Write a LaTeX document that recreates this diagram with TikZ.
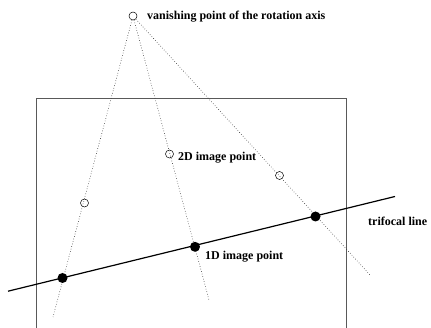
\documentclass[tikz,border=0pt]{standalone}
\usepackage{fontspec}
\setmainfont{Liberation Serif}
\begin{document}
\begin{tikzpicture}[x=1pt,y=-1pt,
  ray/.style={dotted,line width=0.6pt,black!80},
  hollow/.style={circle,draw,line width=0.5pt,minimum size=8pt,inner sep=0pt},
  solid dot/.style={circle,fill=black,minimum size=10pt,inner sep=0pt},
  lbl/.style={anchor=west,font=\fontsize{12}{14}\selectfont\bfseries,inner sep=0pt},
  frame/.style={line width=0.6pt,black!65}]
\useasboundingbox (0,0) rectangle (431,328);
% frame (image)
\coordinate (fbl) at (36,328);
\coordinate (ftl) at (36,98);
\coordinate (ftr) at (346,98);
\coordinate (fbr) at (346,328);
\draw[frame] (fbl) -- (ftl) -- (ftr) -- (fbr);
% vanishing point
\node[hollow] (vp) at (133,16) {};
\node[lbl] (vpl) at (147,17) {vanishing point of the rotation axis};
% ray ends
\coordinate (e1) at (53,317);
\coordinate (e2) at (209,300);
\coordinate (e3) at (371,276);
\draw[ray] (vp) -- (e1);
\draw[ray] (vp) -- (e2);
\draw[ray] (vp) -- (e3);
% 2D image points
\node[hollow] (c1) at (84.5,203) {};
\node[hollow] (c2) at (169.5,154) {};
\node[hollow] (c3) at (279.5,175.5) {};
% trifocal line
\coordinate (tl) at (8,291.2);
\coordinate (tr) at (395,196.5);
\draw[line width=1.2pt] (tl) -- (tr);
% 1D image points
\node[solid dot] (d1) at (62.5,278) {};
\node[solid dot] (d2) at (195,246.8) {};
\node[solid dot] (d3) at (315.5,216.5) {};
% labels
\node[lbl] (l2d) at (178,158) {2D image point};
\node[lbl] (l1d) at (205,256.5) {1D image point};
\node[lbl] (ltl) at (368,221.5) {trifocal line};
\end{tikzpicture}
\end{document}
